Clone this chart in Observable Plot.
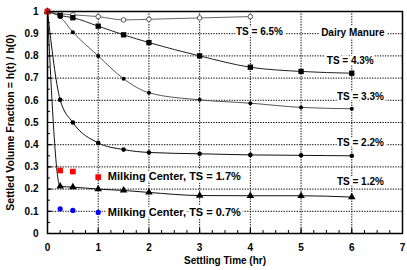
<!DOCTYPE html>
<html>
<head>
<meta charset="utf-8">
<script src="https://cdn.jsdelivr.net/npm/d3@7"></script>
<script src="https://cdn.jsdelivr.net/npm/@observablehq/plot@0.6"></script>
<style>
  html, body { margin: 0; padding: 0; background: white; }
</style>
</head>
<body>
<div id="chart"></div>
<script>
// Settling time (hr)
const time = [0, 0.25, 0.5, 1, 1.5, 2, 3, 4, 5, 6];
const time65 = [0, 0.25, 0.5, 1, 1.5, 2, 3, 4];
const timeMilk = [0, 0.25, 0.5, 1];

// Dairy manure, settled volume fraction
const ts65 = [1, 0.99, 0.985, 0.977, 0.962, 0.965, 0.971, 0.977];
const ts43 = [1, 0.982, 0.972, 0.934, 0.895, 0.86, 0.80, 0.749, 0.73, 0.722];
const ts33 = [1, 0.975, 0.907, 0.80, 0.697, 0.634, 0.602, 0.587, 0.568, 0.562];
const ts22 = [1, 0.602, 0.50, 0.408, 0.378, 0.365, 0.359, 0.354, 0.352, 0.35];
const ts12 = [1, 0.212, 0.209, 0.20, 0.194, 0.185, 0.171, 0.17, 0.17, 0.164];

// Milking center
const milk17 = [1, 0.284, 0.279, 0.254];
const milk07 = [1, 0.111, 0.104, 0.095];

// Axis ticks
const xTicks = [0, 1, 2, 3, 4, 5, 6, 7];
const xMinor = d3.range(0, 7.001, 0.25);
const yTicks = [0, 0.1, 0.2, 0.3, 0.4, 0.5, 0.6, 0.7, 0.8, 0.9, 1];
const yMinor = d3.range(0, 1.001, 0.05);
const xGrid = [1, 2, 3, 4, 5, 6];
const yGrid = [0.1, 0.2, 0.3, 0.4, 0.5, 0.6, 0.7, 0.8, 0.9];

// Titles and labels
const xTitle = "Settling Time (hr)";
const yTitle = "Settled Volume Fraction = h(t) / h(0)";
const labels = [
  {x: 4.18, y: 0.91, text: "TS = 6.5%"},
  {x: 6.02, y: 0.905, text: "Dairy Manure"},
  {x: 5.97, y: 0.78, text: "TS = 4.3%"},
  {x: 6.17, y: 0.617, text: "TS = 3.3%"},
  {x: 6.17, y: 0.408, text: "TS = 2.2%"},
  {x: 6.17, y: 0.231, text: "TS = 1.2%"}
];
const milkLabels = [
  {x: 1.19, y: 0.258, text: "Milking Center, TS = 1.7%"},
  {x: 1.19, y: 0.096, text: "Milking Center, TS = 0.7%"}
];

const toRows = (xs, ys) => xs.map((x, i) => ({x, y: ys[i]}));
const d65 = toRows(time65, ts65);
const d43 = toRows(time, ts43);
const d33 = toRows(time, ts33);
const d22 = toRows(time, ts22);
const d12 = toRows(time, ts12);
const m17 = toRows(timeMilk, milk17);
const m07 = toRows(timeMilk, milk07);

const chart = Plot.plot({
  width: 407,
  height: 270,
  marginLeft: 47,
  marginRight: 5,
  marginTop: 11,
  marginBottom: 37,
  style: {fontFamily: "'Liberation Sans', Arial, sans-serif", fontWeight: "bold", fontSize: "10px", background: "white", color: "black"},
  x: {domain: [0, 7]},
  y: {domain: [0, 1]},
  marks: [
    Plot.gridX(xGrid, {stroke: "black", strokeOpacity: 1, strokeDasharray: "1.3,1.3", strokeWidth: 1}),
    Plot.gridY(yGrid, {stroke: "black", strokeOpacity: 1, strokeDasharray: "1.3,1.3", strokeWidth: 1}),
    // axes
    Plot.axisX({ticks: xMinor, tickSize: -3, tickFormat: () => "", label: null}),
    Plot.axisX({ticks: xTicks, tickSize: -5, tickFormat: () => "", label: null}),
    Plot.axisX({ticks: xTicks, tickSize: 0, tickPadding: 10, tickFormat: d3.format("d"), label: null, fontSize: 10}),
    Plot.axisY({ticks: yMinor, tickSize: -3, tickFormat: () => "", label: null}),
    Plot.axisY({ticks: yTicks, tickSize: -5, tickFormat: () => "", label: null}),
    Plot.axisY({ticks: yTicks, tickSize: 0, tickPadding: 9, tickFormat: d => d === 0 || d === 1 ? String(d) : d.toFixed(1), label: null, fontSize: 10}),
    Plot.text([xTitle], {frameAnchor: "bottom", textAnchor: "middle", dy: 30, text: d => d, fontSize: 10, fontWeight: "bold", fill: "black"}),
    Plot.text([yTitle], {frameAnchor: "left", textAnchor: "middle", dx: -37, rotate: -90, text: d => d, fontSize: 10.5, fontWeight: "bold", fill: "black"}),
    // lines
    Plot.line(d65, {x: "x", y: "y", stroke: "#666", strokeWidth: 1, curve: "monotone-x"}),
    Plot.line(d43, {x: "x", y: "y", stroke: "#222", strokeWidth: 1, curve: "monotone-x"}),
    Plot.line(d33, {x: "x", y: "y", stroke: "#555", strokeWidth: 1, curve: "monotone-x"}),
    Plot.line(d22, {x: "x", y: "y", stroke: "#111", strokeWidth: 1, curve: "monotone-x"}),
    Plot.line(d12, {x: "x", y: "y", stroke: "#111", strokeWidth: 1, curve: "monotone-x"}),
    // markers
    Plot.dot(d65, {x: "x", y: "y", r: 2.3, fill: "white", stroke: "#555", strokeWidth: 1}),
    Plot.dot(d43, {x: "x", y: "y", symbol: "square", r: 3, fill: "black"}),
    Plot.dot(d33, {x: "x", y: "y", r: 2, fill: "black"}),
    Plot.dot(d22, {x: "x", y: "y", r: 2.3, fill: "black"}),
    Plot.dot(d12, {x: "x", y: "y", symbol: "triangle", r: 2.8, fill: "black"}),
    Plot.dot(m07, {x: "x", y: "y", r: 2.6, fill: "#0000ff"}),
    Plot.dot(m17, {x: "x", y: "y", symbol: "square", r: 3.2, fill: "#ff0000"}),
    // labels
    Plot.text(labels, {x: "x", y: "y", text: "text", fontSize: 10, fontWeight: "bold", fill: "black", stroke: "white", strokeWidth: 5}),
    Plot.text(milkLabels, {x: "x", y: "y", text: "text", textAnchor: "start", fontSize: 11, fontWeight: "bold", fill: "black", stroke: "white", strokeWidth: 5}),
    Plot.frame({stroke: "black", strokeWidth: 1.5})
  ]
});
document.getElementById("chart").appendChild(chart);
</script>
</body>
</html>
